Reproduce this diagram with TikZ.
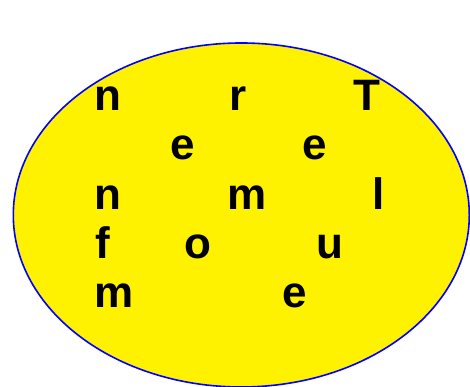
\documentclass[tikz,border=0pt]{standalone}
\usepackage{fontspec}
\setmainfont{Liberation Sans}
\begin{document}
\begin{tikzpicture}[x=1pt,y=1pt,
  letter/.style={anchor=base,inner sep=0pt,font=\fontsize{44}{44}\selectfont\bfseries}]
\useasboundingbox (0,0) rectangle (470,387);
\draw[blue,fill=yellow,line width=1.6pt] (241.3,172) ellipse [x radius=228,y radius=172];
% row 1
\node[letter] (r1a) at (108,276) {n};
\node[letter] (r1b) at (238,276) {r};
\node[letter] (r1c) at (367,276) {T};
% row 2
\node[letter] (r2a) at (183,227) {e};
\node[letter] (r2b) at (315,227) {e};
% row 3
\node[letter] (r3a) at (108,177) {n};
\node[letter] (r3b) at (247,177) {m};
\node[letter] (r3c) at (378.5,177) {l};
% row 4
\node[letter] (r4a) at (103,128) {f};
\node[letter] (r4b) at (197.5,128) {o};
\node[letter] (r4c) at (330,128) {u};
% row 5
\node[letter] (r5a) at (114,79) {m};
\node[letter] (r5b) at (295,79) {e};
\end{tikzpicture}
\end{document}
